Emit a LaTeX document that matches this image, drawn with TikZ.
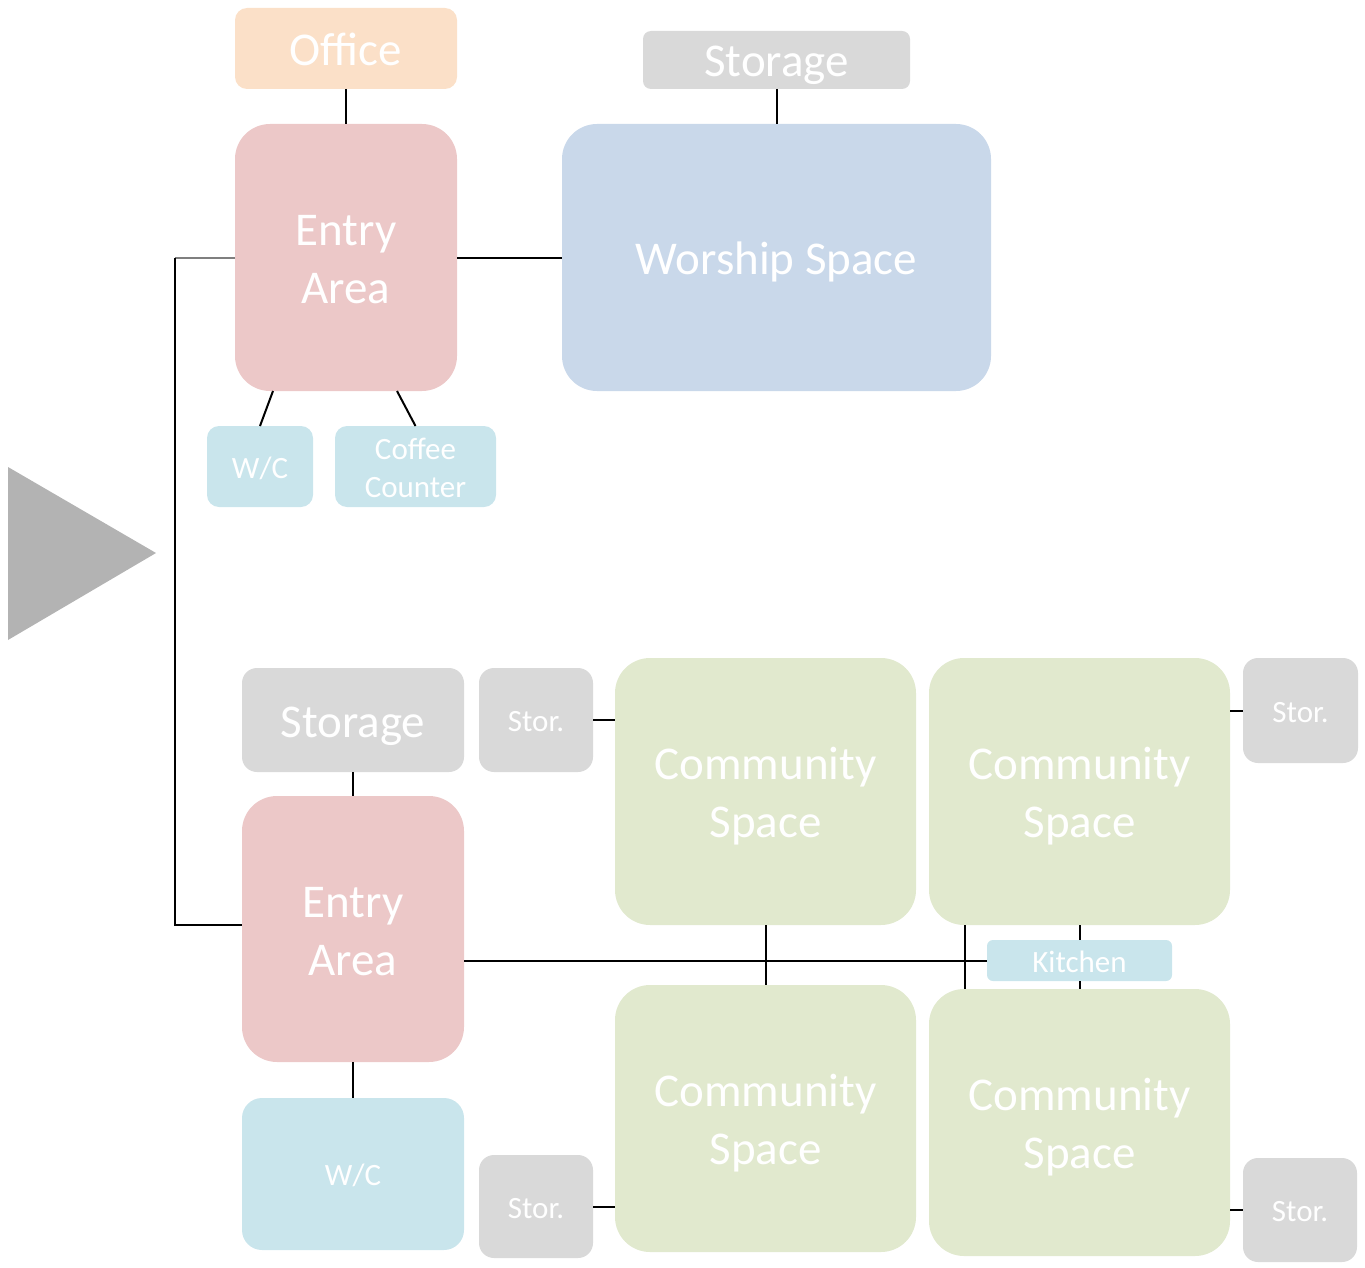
\documentclass[tikz,border=0pt]{standalone}
\usepackage{fontspec}
\setmainfont{Carlito}
\definecolor{peach}{HTML}{FBE0C8}
\definecolor{pinkbox}{HTML}{ECC8C8}
\definecolor{bluebox}{HTML}{C9D8EA}
\definecolor{greenbox}{HTML}{E1E9CE}
\definecolor{lblue}{HTML}{C9E5EC}
\definecolor{graybox}{HTML}{D9D9D9}
\definecolor{tri}{HTML}{B3B3B3}
\definecolor{linegray}{HTML}{7F7F7F}
\tikzset{
  box/.style={draw=none, text=white, align=center, inner sep=0pt, outer sep=0pt},
  big/.style={box, font=\fontsize{47}{58}\selectfont, text height=44pt, text depth=10pt},
  bigtwo/.style={box, font=\fontsize{47}{58}\selectfont, text height=102pt, text depth=10pt},
  small/.style={box, font=\fontsize{31}{38}\selectfont, text height=30pt, text depth=6.3pt},
  smalltwo/.style={box, font=\fontsize{31}{38}\selectfont, text height=68pt, text depth=6.3pt},
  link/.style={draw=black, line width=2pt},
  graylink/.style={draw=linegray, line width=2pt},
}
\begin{document}
\begin{tikzpicture}[x=1pt,y=-1pt]
\useasboundingbox (0,0) rectangle (1365,1268);
% triangle
\fill[tri] (8,467) -- (156,553) -- (8,640) -- cycle;
% top group
\node[big, fill=peach, rounded corners=12pt, minimum width=222pt, minimum height=81pt] (office) at (346,48.5) {Office};
\node[big, fill=graybox, rounded corners=8pt, minimum width=267pt, minimum height=58pt] (storT) at (776.5,60) {Storage};
\node[bigtwo, fill=pinkbox, rounded corners=35pt, minimum width=222pt, minimum height=267pt] (entryA) at (346,257.5) {Entry\\Area};
\node[big, fill=bluebox, rounded corners=35pt, minimum width=429pt, minimum height=267pt] (worship) at (776.5,257.5) {Worship Space};
\node[small, fill=lblue, rounded corners=12pt, minimum width=106pt, minimum height=81pt] (wcA) at (260,466.5) {W/C};
\node[smalltwo, fill=lblue, rounded corners=12pt, minimum width=161pt, minimum height=81pt] (coffee) at (415.5,466.5) {Coffee\\Counter};
% bottom group
\node[big, fill=graybox, rounded corners=15pt, minimum width=222pt, minimum height=104pt] (storB) at (353,720) {Storage};
\node[small, fill=graybox, rounded corners=15pt, minimum width=114pt, minimum height=104pt] (stor1) at (536,720) {Stor.};
\node[bigtwo, fill=greenbox, rounded corners=35pt, minimum width=301pt, minimum height=267pt] (cs1) at (765.5,791.5) {Community\\Space};
\node[bigtwo, fill=greenbox, rounded corners=35pt, minimum width=301pt, minimum height=267pt] (cs2) at (1079.5,791.5) {Community\\Space};
\node[small, fill=graybox, rounded corners=15pt, minimum width=115pt, minimum height=105pt] (storTR) at (1300.5,710.5) {Stor.};
\node[bigtwo, fill=pinkbox, rounded corners=35pt, minimum width=222pt, minimum height=266pt] (entryB) at (353,929) {Entry\\Area};
\node[small, fill=lblue, rounded corners=6pt, minimum width=185pt, minimum height=41pt] (kitchen) at (1079.5,960.5) {Kitchen};
\node[small, fill=lblue, rounded corners=20pt, minimum width=222pt, minimum height=152pt] (wcB) at (353,1174) {W/C};
\node[small, fill=graybox, rounded corners=15pt, minimum width=114pt, minimum height=103pt] (storBL) at (536,1206.5) {Stor.};
\node[bigtwo, fill=greenbox, rounded corners=35pt, minimum width=301pt, minimum height=267pt] (cs3) at (765.5,1118.5) {Community\\Space};
\node[bigtwo, fill=greenbox, rounded corners=35pt, minimum width=301pt, minimum height=267pt] (cs4) at (1079.5,1122.5) {Community\\Space};
\node[small, fill=graybox, rounded corners=15pt, minimum width=114pt, minimum height=104pt] (storBR) at (1300,1210) {Stor.};
% connectors top
\draw[link] (office.south) -- (entryA.north);
\draw[link] (storT.south) -- (worship.north);
\draw[link] (entryA.east) -- (worship.west);
\draw[link] ([xshift=-73pt]entryA.south) -- (wcA.north);
\draw[link] ([xshift=51pt]entryA.south) -- (coffee.north);
% left spine
\coordinate (c1) at (175,257.5);
\coordinate (c2) at (175,925);
\draw[graylink] (entryA.west) -- (c1);
\draw[link] (c1) -- (c2) -- (entryB.west |- c2);
% connectors bottom
\draw[link] (storB.south) -- (entryB.north);
\draw[link] (entryB.south) -- (wcB.north);
\draw[link] (entryB.east |- kitchen.west) -- (kitchen.west);
\draw[link] (stor1.east) -- (stor1.east -| cs1.west);
\draw[link] (cs2.east |- storTR.west) -- (storTR.west);
\draw[link] (cs1.south) -- (cs3.north);
\draw[link] ([xshift=-114.5pt]cs2.south) -- ([xshift=-114.5pt]cs4.north);
\draw[link] (cs2.south) -- (kitchen.north);
\draw[link] (kitchen.south) -- (cs4.north);
\draw[link] (storBL.east) -- (storBL.east -| cs3.west);
\draw[link] (cs4.east |- storBR.west) -- (storBR.west);
\end{tikzpicture}
\end{document}
